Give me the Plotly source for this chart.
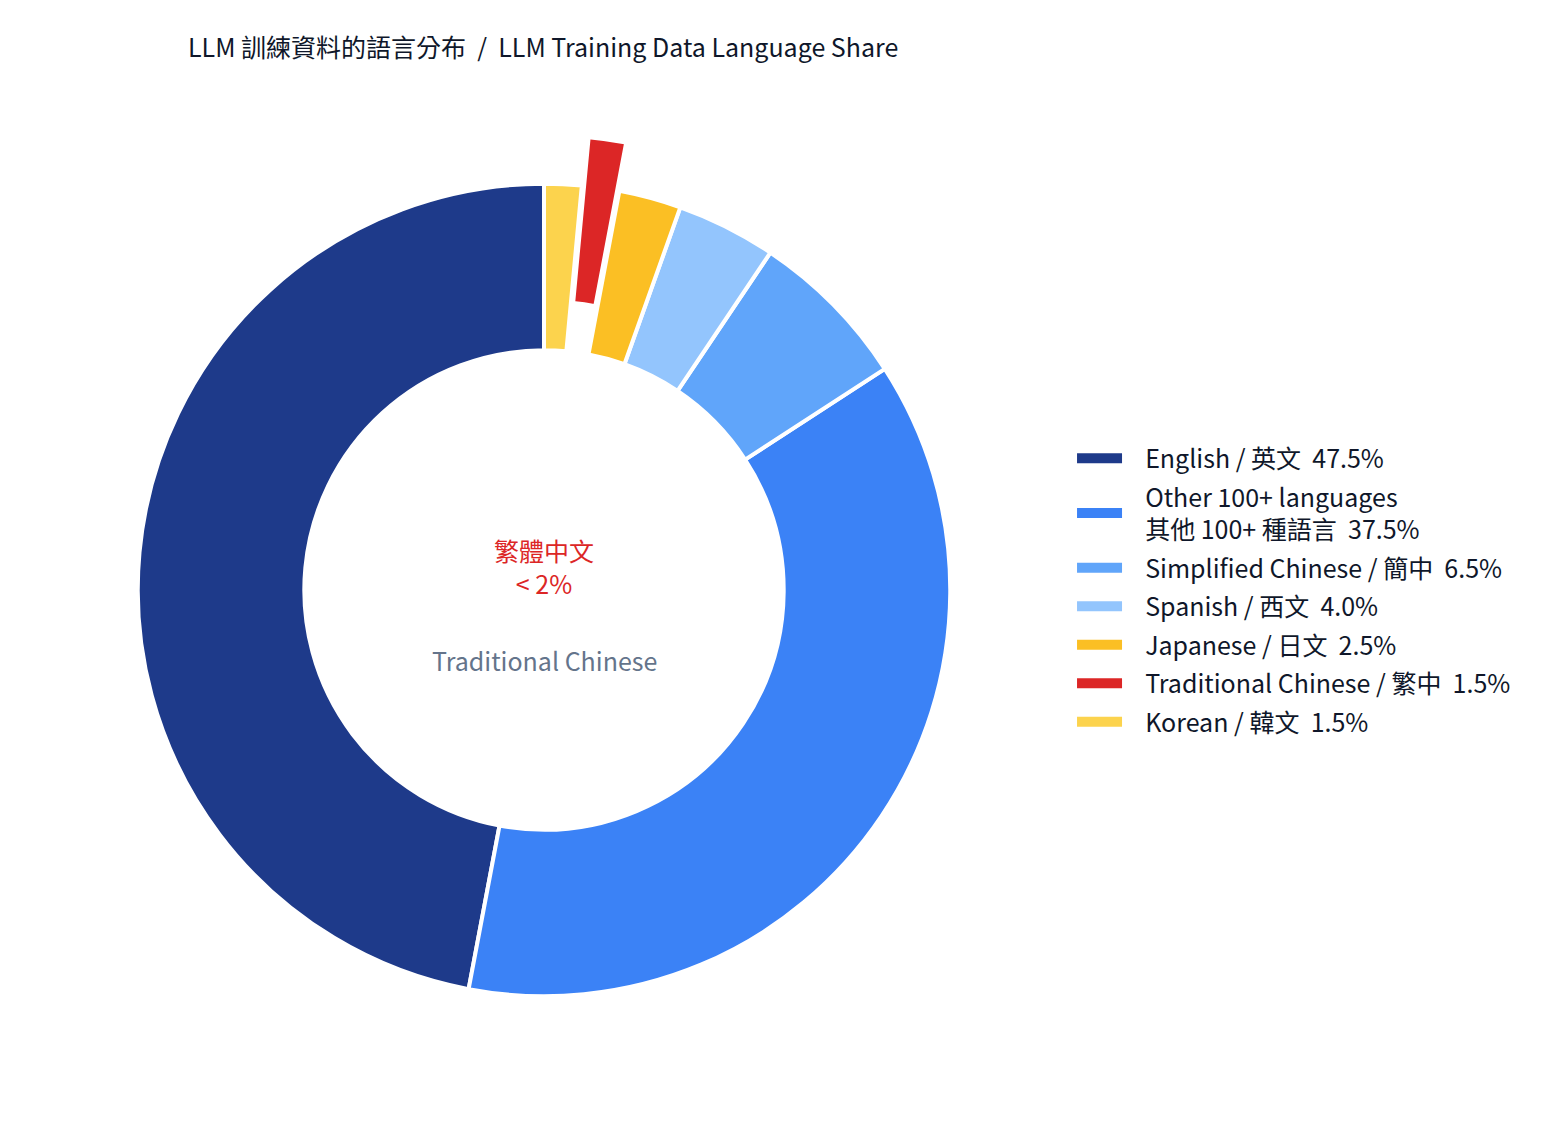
import plotly.graph_objects as go

# ---- data ----
labels_en = ["English", "Other 100+ languages", "Simplified Chinese", "Spanish",
             "Japanese", "Traditional Chinese", "Korean"]
labels_zh = ["英文", "其他 100+ 種語言", "簡中", "西文", "日文", "繁中", "韓文"]
shares = [47.5, 37.5, 6.5, 4.0, 2.5, 1.5, 1.5]
colors = ["#1E3A8A", "#3B82F6", "#60A5FA", "#93C5FD", "#FBBF24", "#DC2626", "#FCD34D"]
pulls = [0, 0, 0, 0, 0, 0.12, 0]

FONT = "Noto Sans CJK TC, Noto Sans, sans-serif"
DARK = "#0F172A"
PAD = "\u2002\u00a0"


def legend_name(en, zh, v):
    sep = "<br>" + PAD if en.startswith("Other") else " / "
    return f"{PAD}{en}{sep}{zh} \u00a0{v:.1f}%"


# first slice (English) should run counterclockwise from 12 o'clock
start_rot = 360 - 360 * shares[0] / sum(shares)

fig = go.Figure()
fig.add_trace(go.Pie(
    labels=labels_en, values=shares, sort=False, direction="counterclockwise",
    rotation=start_rot, hole=0.59, pull=pulls,
    marker=dict(colors=colors, line=dict(color="white", width=4)),
    textinfo="none", showlegend=False, hoverinfo="label+percent",
))

for en, zh, v, c in zip(labels_en, labels_zh, shares, colors):
    fig.add_trace(go.Scatter(
        x=[None], y=[None], mode="lines", name=legend_name(en, zh, v),
        legendgroup=en,
        line=dict(color=c, width=12), showlegend=True, hoverinfo="skip",
    ))

fig.add_annotation(text="繁體中文<br>< 2%", x=0.5, y=0.5, xref="paper", yref="paper",
                   yshift=24, showarrow=False,
                   font=dict(family=FONT, size=25, color="#DC2626"))
fig.add_annotation(text="Traditional Chinese", x=0.5, y=0.5, xref="paper", yref="paper",
                   yshift=-70, showarrow=False,
                   font=dict(family=FONT, size=25, color="#64748B"))

fig.update_layout(
    width=1557, height=1134,
    margin=dict(l=72, r=557, t=127, b=97),
    paper_bgcolor="white", plot_bgcolor="white",
    font=dict(family=FONT, size=25, color=DARK),
    title=dict(text="LLM 訓練資料的語言分布 \u00a0/\u00a0 LLM Training Data Language Share",
               x=180 / 1557, xanchor="left", xref="container",
               y=1 - 40 / 1134, yanchor="middle", yref="container",
               font=dict(family=FONT, size=25, color=DARK)),
    xaxis=dict(visible=False), yaxis=dict(visible=False),
    legend=dict(x=1.069, xanchor="left", y=0.5, yanchor="middle",
                itemwidth=45, tracegroupgap=3,
                font=dict(family=FONT, size=25, color=DARK),
                bgcolor="rgba(0,0,0,0)"),
)

fig.write_html("out.html")
